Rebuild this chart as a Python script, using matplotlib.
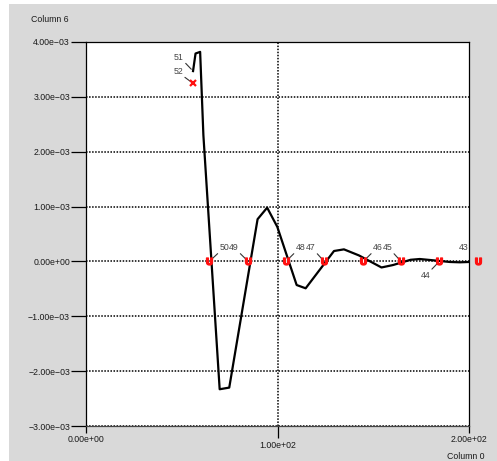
import matplotlib
matplotlib.use('Agg')
import matplotlib.pyplot as plt
from matplotlib.patches import Rectangle
import matplotlib.ticker as mticker

plt.rcParams['font.family'] = ['Liberation Sans', 'DejaVu Sans']

# ---- data ----
curve_x = [55.9, 57.2, 59.6, 61.3, 69.8, 74.8, 89.6, 94.6, 99.9, 110.0, 114.7,
           129.5, 134.7, 142.5, 154.3, 160.3, 169.5, 174.3, 180.0, 190.0, 195.2, 200.0]
curve_y = [3.47e-3, 3.79e-3, 3.82e-3, 2.30e-3, -2.33e-3, -2.30e-3, 0.77e-3, 0.98e-3,
           0.63e-3, -0.43e-3, -0.49e-3, 0.19e-3, 0.22e-3, 0.11e-3, -0.11e-3, -0.066e-3,
           0.03e-3, 0.044e-3, 0.025e-3, -0.01e-3, -0.016e-3, -0.01e-3]
cross_x = [64.4, 84.7, 104.4, 124.4, 144.8, 164.5, 184.5, 204.5]
cross_y = [0, 0, 0, 0, 0, 0, 0, 0]
cross_labels = ['50', '49', '48', '47', '46', '45', '44', '43']
start_x = [55.9, 55.9]
start_y = [3.47e-3, 3.246e-3]
start_labels = ['51', '52']
x_major_ticks = [0, 200]
x_minor_ticks = [100]
y_ticks = [-3e-3, -2e-3, -1e-3, 0.0, 1e-3, 2e-3, 3e-3, 4e-3]
x_label = 'Column 0'
y_label = 'Column 6'

W, H = 497, 461
fig = plt.figure(figsize=(W / 100, H / 100), dpi=100)
fig.patch.set_facecolor('white')
bg = Rectangle((9 / W, 0), 1 - 9 / W, 457 / H, transform=fig.transFigure,
               facecolor='#d9d9d9', edgecolor='none', zorder=-10)
fig.add_artist(bg)

ax = fig.add_axes([86 / W, 35 / H, 383 / W, 384 / H])
ax.set_zorder(1)
ax.set_facecolor('white')
ax.set_xlim(0, 200)
ax.set_ylim(-3e-3, 4e-3)


def fmt(v, pos=None):
    return f"{v:.2e}".replace('-', '\u2212')


ax.set_yticks(y_ticks)
ax.yaxis.set_major_formatter(mticker.FuncFormatter(fmt))
ax.set_xticks(x_major_ticks)
ax.set_xticks(x_minor_ticks, minor=True)
ax.xaxis.set_major_formatter(mticker.FuncFormatter(fmt))
ax.xaxis.set_minor_formatter(mticker.FuncFormatter(fmt))

ax.tick_params(axis='y', which='major', length=11, width=0.9, pad=0.5,
               labelsize=6.3, labelcolor='#1a1a1a')
ax.tick_params(axis='x', which='major', length=5, width=0.9, pad=1.2,
               labelsize=6.3, labelcolor='#1a1a1a')
ax.tick_params(axis='x', which='minor', length=8.6, width=0.9, pad=2.5,
               labelsize=6.3, labelcolor='#1a1a1a')

ax.grid(True, which='major', axis='y', color='black', linestyle=(0, (1, 1)), linewidth=1.1)
ax.grid(True, which='minor', axis='x', color='black', linestyle=(0, (1, 1)), linewidth=1.1)
ax.grid(False, which='major', axis='x')
ax.set_axisbelow(True)

for s in ax.spines.values():
    s.set_linewidth(0.9)
    s.set_color('black')
ax.spines['bottom'].set_color('#444444')

ax.plot(curve_x, curve_y, color='black', linewidth=1.6, zorder=3)
ax.plot(cross_x, cross_y, linestyle='none', marker='$\\mathbf{U}$', color='#ff1010',
        markersize=5.0, clip_on=False, zorder=5)
ax.plot(start_x[1:], start_y[1:], linestyle='none', marker='x', color='#ff1010',
        markersize=4.5, markeredgewidth=1.6, zorder=5)


def label_point(x, y, lab, off, clip=False):
    dx, dy = off
    rel = (0.0 if dx > 0 else 1.0, 0.0 if dy > 0 else 1.0)
    ann = ax.annotate(lab, (x, y), xytext=off, textcoords='offset pixels', ha='center',
                      va='center', fontsize=6.3, color='#444444', annotation_clip=False,
                      arrowprops=dict(arrowstyle='-', color='#333333', lw=0.8,
                                      patchA=None, relpos=rel, shrinkA=1.8, shrinkB=1.8))
    if clip:
        ann.arrow_patch.set_clip_box(ax.bbox)
    return ann


# label offsets in pixels (text centre relative to the point)
cross_offsets = [(15, 14), (-14.5, 14), (14.5, 14), (-13.5, 14), (14.5, 14), (-13.5, 14), (-14, -14), (-14, 14)]
for x, y, lab, off in zip(cross_x, cross_y, cross_labels, cross_offsets):
    label_point(x, y, lab, off, clip=True)

start_offsets = [(-14, 14), (-15, 12)]
for x, y, lab, off in zip(start_x, start_y, start_labels, start_offsets):
    label_point(x, y, lab, off)

fig.text(50 / W, 1 - 19 / H, y_label, ha='center', va='center', fontsize=6.3, color='#1a1a1a')
fig.text(466 / W, 1 - 456 / H, x_label, ha='center', va='center', fontsize=6.3, color='#1a1a1a')

fig.savefig('out.png', dpi=100)
